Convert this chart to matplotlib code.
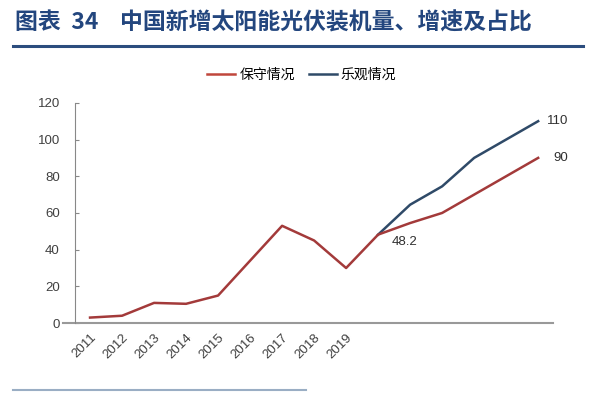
import matplotlib.pyplot as plt
from matplotlib.lines import Line2D

plt.rcParams['font.family'] = ['Liberation Sans', 'Noto Sans CJK SC', 'DejaVu Sans']

years = list(range(2011, 2026))
tick_labels = [str(y) for y in range(2011, 2020)]
conservative = [3, 4, 11, 10.5, 15, 34, 53, 45, 30, 48.2, 54.5, 60, 70, 80, 90]
optimistic = [None] * 9 + [48.2, 64.5, 74.5, 90, 100, 110]

red = '#a33a3a'
blue = '#2f4a68'

fig = plt.figure(figsize=(6, 3.94), dpi=100)
ax = fig.add_axes([0.125, 0.180, 0.797, 0.559])

x = list(range(len(years)))
xo = [i for i, v in zip(x, optimistic) if v is not None]
yo = [v for v in optimistic if v is not None]
ax.plot(x, conservative, color=red, lw=1.8, zorder=3)
ax.plot(xo, yo, color=blue, lw=1.8, zorder=2)

ax.set_xlim(-0.47, 14.47)
ax.set_ylim(0, 120)
ax.set_yticks([0, 20, 40, 60, 80, 100, 120])
ax.set_xticks(range(len(tick_labels)))
ax.set_xticklabels(tick_labels, rotation=45, ha='right', rotation_mode='anchor')
ax.tick_params(axis='x', length=0, pad=6, labelsize=9.5, labelcolor='#404040')
ax.tick_params(axis='y', direction='in', length=3, width=0.8, color='#888888', pad=11,
               labelsize=9.5, labelcolor='#404040')
for s in ['top', 'right', 'bottom']:
    ax.spines[s].set_visible(False)
ax.spines['left'].set_color('#888888')
ax.add_artist(Line2D([-0.025, 1.0], [0, 0], transform=ax.transAxes, clip_on=False,
                     color='#999999', lw=1.5))

ax.annotate('110', (x[-1], optimistic[-1]), xytext=(6, 0), textcoords='offset points',
            va='center', ha='left', fontsize=9.5, color='#303030')
ax.annotate('90', (x[-1], conservative[-1]), xytext=(11, 0), textcoords='offset points',
            va='center', ha='left', fontsize=9.5, color='#303030')
ax.annotate('48.2', (x[9], conservative[9]), xytext=(10, -5), textcoords='offset points',
            va='center', ha='left', fontsize=9.5, color='#303030')

handles = [Line2D([], [], color='#c0463c', lw=1.8), Line2D([], [], color=blue, lw=1.8)]
fig.legend(handles, ['保守情况', '乐观情况'], loc='center', bbox_to_anchor=(0.503, 0.81),
           ncol=2, frameon=False, handlelength=2.0, handletextpad=0.3, columnspacing=1.0,
           prop={'family': ['Noto Sans CJK SC'], 'size': 10})

fig.text(0.025, 0.942, '图表  34', fontsize=16.5, fontweight='bold', color='#23467e',
         family=['Noto Sans CJK SC'], va='center')
fig.text(0.2, 0.942, '中国新增太阳能光伏装机量、增速及占比', fontsize=16.5, fontweight='bold',
         color='#23467e', family=['Noto Sans CJK SC'], va='center')
fig.add_artist(Line2D([0.022, 0.972], [0.883, 0.883], color='#2c4d7e', lw=2.2))
fig.add_artist(Line2D([0.022, 0.51], [0.01, 0.01], color='#9aaec4', lw=1.5))

fig.savefig('out.png', dpi=100, facecolor='white')
